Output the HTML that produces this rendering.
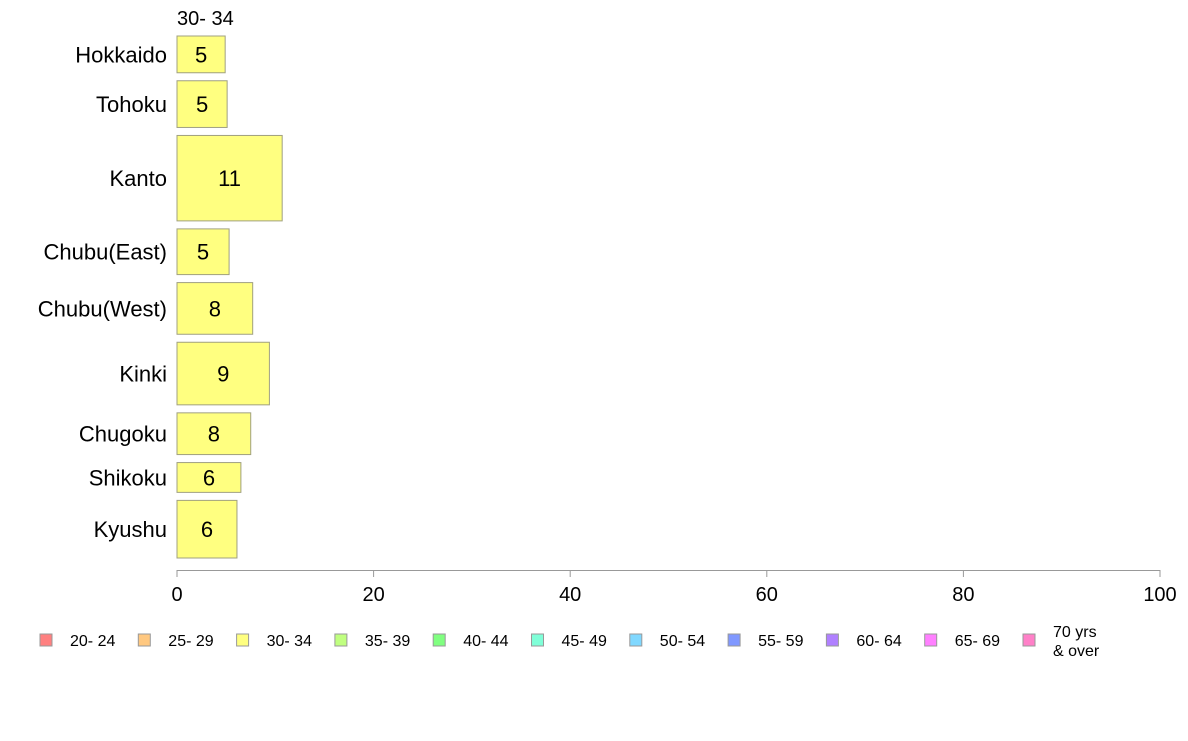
<!DOCTYPE html>
<html><head><meta charset="utf-8"><style>
body{margin:0;background:#fff;font-family:"Liberation Sans",sans-serif}
</style></head><body>
<svg id="c" width="1188" height="736" xmlns="http://www.w3.org/2000/svg" font-family="Liberation Sans, sans-serif"></svg>
<script>
const regions=["Hokkaido","Tohoku","Kanto","Chubu(East)","Chubu(West)","Kinki","Chugoku","Shikoku","Kyushu"];
const values=[4.9,5.1,10.7,5.3,7.7,9.4,7.5,6.5,6.1];
const labels=["5","5","11","5","8","9","8","6","6"];
const weights=[37,47,86,46,52,63,42,30,58];
const ticks=[0,20,40,60,80,100];
const legendLabels=["20- 24","25- 29","30- 34","35- 39","40- 44","45- 49","50- 54","55- 59","60- 64","65- 69","70 yrs\n& over"];
const legendColors=["#ff8080","#ffc880","#ffff80","#c0ff80","#80ff80","#80ffd8","#80d8ff","#8098ff","#b080ff","#ff80ff","#ff80c8"];
const NS="http://www.w3.org/2000/svg";
const svgEl=document.getElementById('c');
function mk(t,a,p){const e=document.createElementNS(NS,t);for(const k in a)e.setAttribute(k,a[k]);(p||svgEl).appendChild(e);return e;}
const x0=177,x1=1160,yTop=36,yBottom=558,gap=8;
const xs=v=>x0+(x1-x0)*v/100;
const wsum=weights.reduce((a,b)=>a+b,0);
const avail=yBottom-yTop-gap*(weights.length-1);
const st=mk('text',{x:177,y:25,'font-size':20,fill:'#000'});st.textContent="30- 34";


let yy=yTop;
regions.forEach((r,i)=>{
  const h=avail*weights[i]/wsum;
  const b=mk('rect',{x:x0,y:yy,width:xs(values[i])-x0,height:h,fill:'#ffff80',stroke:'#a0a080','stroke-width':1});
  
  
  const v=mk('text',{x:(x0+xs(values[i]))/2,y:yy+h/2+8,'font-size':22,'text-anchor':'middle'});v.textContent=labels[i];
  
  
  const l=mk('text',{x:167,y:yy+h/2+8,'font-size':22,'text-anchor':'end'});l.textContent=r;
  
  
  yy+=h+gap;
});
const ax=mk('line',{x1:x0,x2:x1,y1:570.5,y2:570.5,stroke:'#999'});


ticks.forEach(tv=>{
  mk('line',{x1:xs(tv),x2:xs(tv),y1:570,y2:577,stroke:'#999'});
  const tt=mk('text',{x:xs(tv),y:601,'font-size':20,'text-anchor':'middle'});tt.textContent=tv;
  
  
});
legendLabels.forEach((lb,i)=>{
  const g=mk('g',{});
  
  
  const lx=40+i*98.3;
  mk('rect',{x:lx,y:634,width:12,height:12,fill:legendColors[i],stroke:'#999'},g);
  const parts=lb.split('\n');
  parts.forEach((p,j)=>{
    const tx=mk('text',{x:lx+30,y:parts.length>1?637+j*19:646,'font-size':16},g);tx.textContent=p;
  });
});
</script>
</body></html>
